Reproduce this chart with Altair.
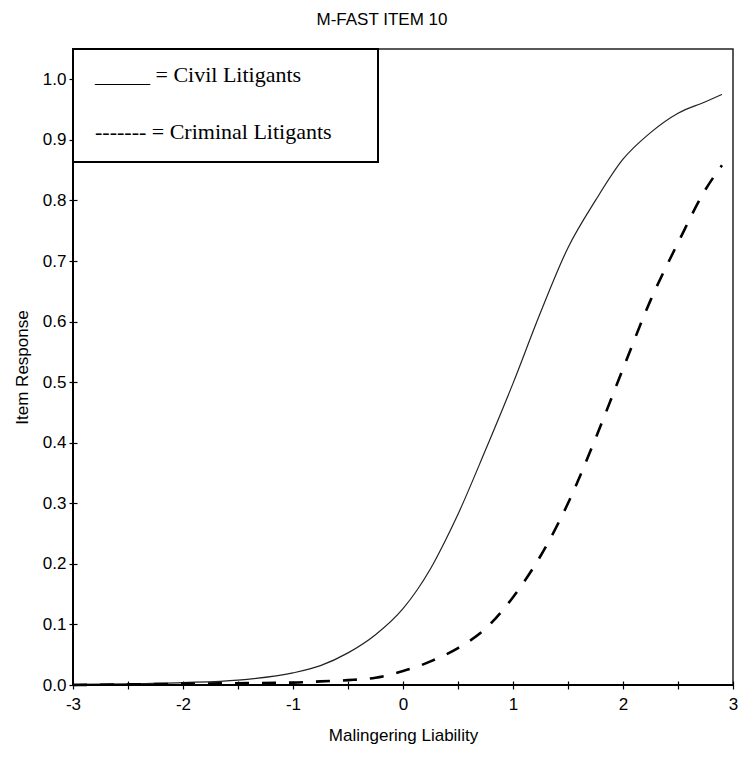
import altair as alt
import pandas as pd

# ---- data ----
chart_title = "M-FAST ITEM 10"
x_title = "Malingering Liability"
y_title = "Item Response"
legend_civil = "_____ = Civil Litigants"
legend_criminal = "------- = Criminal Litigants"

theta = [-3.0, -2.5, -2.0, -1.5, -1.0, -0.75, -0.5, -0.25, 0.0, 0.125, 0.25, 0.375, 0.5, 0.75,
         1.0, 1.25, 1.5, 1.75, 2.0, 2.25, 2.5, 2.75, 2.9]
civil = [0.001, 0.002, 0.004, 0.008, 0.020, 0.032, 0.053, 0.083, 0.126, 0.156, 0.192, 0.235, 0.282, 0.388,
         0.498, 0.615, 0.722, 0.800, 0.868, 0.912, 0.944, 0.963, 0.975]
criminal = [0.000, 0.001, 0.002, 0.003, 0.004, 0.006, 0.008, 0.012, 0.023, 0.030, 0.039, 0.049, 0.061, 0.093,
            0.145, 0.213, 0.300, 0.407, 0.522, 0.635, 0.730, 0.818, 0.858]

x_ticks = [-3.0, -2.5, -2.0, -1.5, -1.0, -0.5, 0.0, 0.5, 1.0, 1.5, 2.0, 2.5, 3.0]
y_ticks = [0.0, 0.05, 0.1, 0.15, 0.2, 0.25, 0.3, 0.35, 0.4, 0.45, 0.5, 0.55, 0.6,
           0.65, 0.7, 0.75, 0.8, 0.85, 0.9, 0.95, 1.0]

df_civil = pd.DataFrame({"theta": theta, "p": civil})
df_crim = pd.DataFrame({"theta": theta, "p": criminal})

SANS = "Liberation Sans"
SERIF = "Liberation Serif"

W, H = 660, 636

xscale = alt.Scale(domain=[-3, 3], nice=False, zero=False)
yscale = alt.Scale(domain=[0, 1.05], nice=False, zero=False)

x_axis = alt.Axis(
    values=x_ticks,
    labelExpr="abs(datum.value % 1) < 0.01 ? (datum.value < 0 ? '-' + abs(datum.value) : '' + datum.value) : ''",
    domain=False, grid=False, offset=-4, tickSize=8, tickColor="#000", tickWidth=1.2,
    labelFont=SANS, labelFontSize=17, labelColor="#000", labelPadding=7, labelFlush=False,
    title=x_title, titleFont=SANS, titleFontSize=17, titleFontWeight="normal", titleColor="#000",
    titleX=W / 2, titleY=54, titleBaseline="middle", titleAlign="center",
)
y_axis = alt.Axis(
    values=y_ticks,
    labelExpr="round(datum.value * 20) % 2 == 0 ? format(datum.value, '.1f') : ''",
    domain=False, grid=False, offset=-4, tickSize=8, tickColor="#000", tickWidth=1.2,
    labelFont=SANS, labelFontSize=17, labelColor="#000", labelPadding=3, labelFlush=False,
    title=y_title, titleFont=SANS, titleFontSize=17, titleFontWeight="normal", titleColor="#000",
    titleAngle=270, titleX=-55, titleY=H / 2, titleBaseline="middle", titleAlign="center",
)

civil_line = alt.Chart(df_civil).mark_line(
    color="#222", strokeWidth=1.2, interpolate="monotone"
).encode(
    x=alt.X("theta:Q", scale=xscale, axis=x_axis),
    y=alt.Y("p:Q", scale=yscale, axis=y_axis),
)

crim_line = alt.Chart(df_crim).mark_line(
    color="#000", strokeWidth=2.6, strokeDash=[14, 13], interpolate="monotone"
).encode(
    x=alt.X("theta:Q", scale=xscale),
    y=alt.Y("p:Q", scale=yscale),
)

left_rule = alt.Chart(pd.DataFrame({"x": [-3.0]})).mark_rule(color="#000", strokeWidth=2).encode(
    x=alt.X("x:Q", scale=xscale)
)
bottom_rule = alt.Chart(pd.DataFrame({"y": [0.0]})).mark_rule(color="#000", strokeWidth=2).encode(
    y=alt.Y("y:Q", scale=yscale)
)

one = pd.DataFrame({"k": [0]})
legend_box = alt.Chart(one).mark_rect(fill="white", stroke="#000", strokeWidth=2).encode(
    x=alt.value(0), x2=alt.value(305), y=alt.value(0), y2=alt.value(113)
)
legend_t1 = alt.Chart(pd.DataFrame({"t": [legend_civil]})).mark_text(
    font=SERIF, fontSize=22, align="left", baseline="alphabetic", color="#000"
).encode(text="t:N", x=alt.value(22), y=alt.value(33))
legend_t2 = alt.Chart(pd.DataFrame({"t": [legend_criminal]})).mark_text(
    font=SERIF, fontSize=22, align="left", baseline="alphabetic", color="#000"
).encode(text="t:N", x=alt.value(22), y=alt.value(90))

title_mark = alt.Chart(pd.DataFrame({"t": [chart_title]})).mark_text(
    font=SANS, fontSize=17, align="center", baseline="middle", color="#000"
).encode(text="t:N", x=alt.value(309), y=alt.value(-29))

chart = alt.layer(
    civil_line, crim_line, left_rule, bottom_rule, legend_box, legend_t1, legend_t2, title_mark
).properties(
    width=W, height=H,
    padding={"left": 65, "top": 41, "right": 6, "bottom": 62},
    autosize=alt.AutoSizeParams(type="none"),
).configure_view(
    stroke="#222", strokeWidth=1.5
)

chart.save("out.html", embed_options={"renderer": "svg", "actions": False})
